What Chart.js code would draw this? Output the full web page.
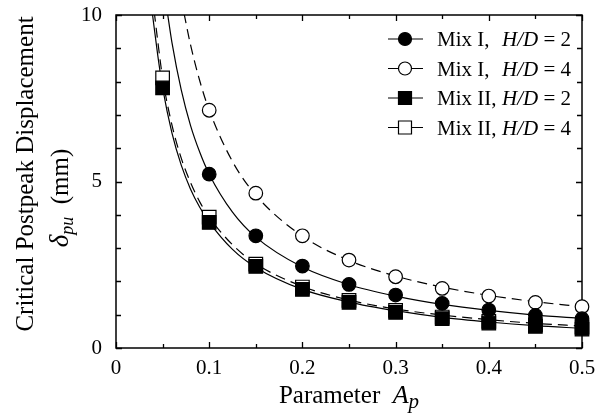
<!DOCTYPE html>
<html>
<head>
<meta charset="utf-8">
<script src="https://cdn.jsdelivr.net/npm/chart.js@4/dist/chart.umd.min.js"></script>
<style>
  html, body { margin: 0; padding: 0; background: #fff; }
  #wrap { width: 609px; height: 415px; position: relative; }
</style>
</head>
<body>
<div id="wrap"><canvas id="c"></canvas></div>
<script>
// ---- data ----
const apMarkers = [0.05, 0.10, 0.15, 0.20, 0.25, 0.30, 0.35, 0.40, 0.45, 0.50];
const mixI_HD2  = [null, 5.22, 3.37, 2.46, 1.91, 1.59, 1.34, 1.14, 0.98, 0.88];
const mixI_HD4  = [null, 7.14, 4.65, 3.37, 2.64, 2.14, 1.79, 1.56, 1.37, 1.24];
const mixII_HD2 = [7.81, 3.77, 2.45, 1.76, 1.37, 1.07, 0.88, 0.75, 0.65, 0.57];
const mixII_HD4 = [8.11, 3.93, 2.52, 1.83, 1.43, 1.13, 0.93, 0.80, 0.70, 0.63];

// fitted curves
const curveI2_x  = [0.055, 0.06, 0.07, 0.08, 0.09, 0.10, 0.125, 0.15, 0.20, 0.25, 0.30, 0.35, 0.40, 0.45, 0.50];
const curveI2_y  = [10.1, 9.18, 7.75, 6.68, 5.87, 5.22, 4.08, 3.33, 2.43, 1.90, 1.56, 1.31, 1.13, 0.99, 0.89];
const curveI4_x  = [0.073, 0.08, 0.09, 0.10, 0.125, 0.15, 0.20, 0.25, 0.30, 0.35, 0.40, 0.45, 0.50];
const curveI4_y  = [10.05, 9.10, 8.01, 7.14, 5.60, 4.59, 3.36, 2.63, 2.16, 1.83, 1.58, 1.39, 1.24];
const curveII2_x = [0.039, 0.045, 0.05, 0.06, 0.07, 0.08, 0.09, 0.10, 0.125, 0.15, 0.20, 0.25, 0.30, 0.35, 0.40, 0.45, 0.50];
const curveII2_y = [10.05, 8.75, 7.82, 6.46, 5.49, 4.77, 4.22, 3.78, 2.96, 2.42, 1.76, 1.38, 1.12, 0.92, 0.78, 0.67, 0.59];
const curveII4_x = [0.041, 0.045, 0.05, 0.06, 0.07, 0.08, 0.09, 0.10, 0.125, 0.15, 0.20, 0.25, 0.30, 0.35, 0.40, 0.45, 0.50];
const curveII4_y = [10.1, 9.17, 8.11, 6.70, 5.70, 4.97, 4.38, 3.93, 3.10, 2.53, 1.85, 1.44, 1.17, 0.99, 0.85, 0.74, 0.66];

const xTickValues = [0, 0.05, 0.1, 0.15, 0.2, 0.25, 0.3, 0.35, 0.4, 0.45, 0.5];
const yTickValues = [0, 1, 2, 3, 4, 5, 6, 7, 8, 9, 10];

const legendLabels = [
  { mix: 'Mix I,', hd: '2' },
  { mix: 'Mix I,', hd: '4' },
  { mix: 'Mix II,', hd: '2' },
  { mix: 'Mix II,', hd: '4' }
];

// ---- helpers ----
const FONT = "'Liberation Serif', 'Times New Roman', serif";
function pts(xs, ys) {
  const out = [];
  xs.forEach((x, i) => { if (ys[i] !== null && ys[i] !== undefined) out.push({ x: x, y: ys[i] }); });
  return out;
}
function curve(xs, ys, dash) {
  return {
    data: pts(xs, ys), showLine: true, pointRadius: 0, borderColor: '#000',
    borderWidth: 1.2, borderDash: dash, cubicInterpolationMode: 'monotone', fill: false
  };
}
function markers(ys, style, filled, r) {
  return {
    data: pts(apMarkers, ys), showLine: false, pointStyle: style, pointRadius: r,
    pointBackgroundColor: filled ? '#000' : '#fff', pointBorderColor: '#000',
    pointBorderWidth: 1.2, clip: false
  };
}

const DASH = [10, 6];
const datasets = [
  Object.assign(markers(mixI_HD2, 'circle', true, 6.8), { order: 1 }),
  Object.assign(markers(mixI_HD4, 'circle', false, 6.8), { order: 2 }),
  Object.assign(markers(mixII_HD2, 'rect', true, 9.6), { order: 3 }),
  Object.assign(markers(mixII_HD4, 'rect', false, 9.6), { order: 4 }),
  Object.assign(curve(curveI2_x, curveI2_y, []), { order: 10 }),
  Object.assign(curve(curveI4_x, curveI4_y, DASH), { order: 11 }),
  Object.assign(curve(curveII2_x, curveII2_y, []), { order: 12 }),
  Object.assign(curve(curveII4_x, curveII4_y, DASH), { order: 13 })
];

function drawParts(ctx, parts, x, y, align) {
  let total = 0;
  parts.forEach(p => { ctx.font = p.font; total += ctx.measureText(p.text).width; });
  let cx = align === 'center' ? x - total / 2 : x;
  parts.forEach(p => {
    ctx.font = p.font;
    ctx.fillText(p.text, cx, y + (p.dy || 0));
    cx += ctx.measureText(p.text).width;
  });
}

const framePlugin = {
  id: 'frame',
  beforeDatasetsDraw(chart) {
    const { ctx, chartArea: a, scales: { x, y } } = chart;
    ctx.save();
    ctx.strokeStyle = '#000';
    ctx.lineWidth = 1.3;
    ctx.beginPath();
    xTickValues.forEach(t => {
      const px = Math.round(x.getPixelForValue(t)) + 0.5;
      const major = Math.abs(t * 10 - Math.round(t * 10)) < 1e-6;
      const len = major ? 6 : 4;
      ctx.moveTo(px, a.bottom); ctx.lineTo(px, a.bottom - len);
      ctx.moveTo(px, a.top); ctx.lineTo(px, a.top + len);
    });
    yTickValues.forEach(t => {
      const py = Math.round(y.getPixelForValue(t)) + 0.5;
      const len = (t % 5 === 0) ? 6 : 5;
      ctx.moveTo(a.left, py); ctx.lineTo(a.left + len, py);
      ctx.moveTo(a.right, py); ctx.lineTo(a.right - len, py);
    });
    ctx.stroke();
    ctx.lineWidth = 1.5;
    ctx.strokeRect(a.left, a.top, a.right - a.left, a.bottom - a.top);
    ctx.restore();
  },
  afterDraw(chart) {
    const { ctx } = chart;
    ctx.save();
    ctx.fillStyle = '#000';
    ctx.textBaseline = 'alphabetic';
    // x-axis title
    drawParts(ctx, [
      { text: 'Parameter  ', font: '25px ' + FONT },
      { text: 'A', font: 'italic 26px ' + FONT },
      { text: 'p', font: 'italic 21px ' + FONT, dy: 5 }
    ], 349, 403, 'center');
    // y-axis title (two lines, rotated)
    ctx.save();
    ctx.translate(33, 174);
    ctx.rotate(-Math.PI / 2);
    drawParts(ctx, [{ text: 'Critical Postpeak Displacement', font: '25px ' + FONT }], 0, 0, 'center');
    ctx.restore();
    ctx.save();
    ctx.translate(68, 198);
    ctx.rotate(-Math.PI / 2);
    drawParts(ctx, [
      { text: '\u03B4', font: 'italic 27px ' + FONT },
      { text: 'pu', font: 'italic 18px ' + FONT, dy: 5 },
      { text: '  (mm)', font: '25px ' + FONT }
    ], 0, 0, 'center');
    ctx.restore();

    // legend
    const rowY = [39, 68.5, 98, 127.5];
    const styles = [['circle', true], ['circle', false], ['rect', true], ['rect', false]];
    legendLabels.forEach((lab, i) => {
      const cy = rowY[i];
      ctx.strokeStyle = '#000';
      ctx.lineWidth = 1.2;
      ctx.beginPath();
      ctx.moveTo(388, cy); ctx.lineTo(423, cy);
      ctx.stroke();
      ctx.fillStyle = styles[i][1] ? '#000' : '#fff';
      ctx.beginPath();
      if (styles[i][0] === 'circle') ctx.arc(405, cy, 6.5, 0, Math.PI * 2);
      else ctx.rect(398.5, cy - 6.5, 13, 13);
      ctx.fill(); ctx.stroke();
      ctx.fillStyle = '#000';
      drawParts(ctx, [{ text: lab.mix, font: '21px ' + FONT }], 437, cy + 7, 'left');
      drawParts(ctx, [
        { text: 'H/D', font: 'italic 21px ' + FONT },
        { text: ' = ' + lab.hd, font: '21px ' + FONT }
      ], 502, cy + 7, 'left');
    });
    ctx.restore();
  }
};

new Chart(document.getElementById('c'), {
  type: 'scatter',
  data: { datasets: datasets },
  options: {
    responsive: true,
    maintainAspectRatio: false,
    animation: false,
    events: [],
    layout: { padding: { top: 15, right: 27, left: 0, bottom: 0 } },
    plugins: { legend: { display: false }, tooltip: { enabled: false } },
    scales: {
      x: {
        type: 'linear', min: 0, max: 0.5,
        grid: { display: false, drawTicks: false },
        border: { display: false },
        ticks: {
          stepSize: 0.1, padding: 8, color: '#000',
          font: { family: FONT, size: 21 },
          callback: v => (Math.round(v * 10) / 10).toString()
        },
        afterFit: s => { s.height = 67; }
      },
      y: {
        type: 'linear', min: 0, max: 10,
        grid: { display: false, drawTicks: false },
        border: { display: false },
        ticks: {
          stepSize: 5, padding: 14, color: '#000',
          font: { family: FONT, size: 21, lineHeight: 0.05 }
        },
        afterFit: s => { s.width = 116; }
      }
    }
  },
  plugins: [framePlugin]
});
</script>
</body>
</html>
